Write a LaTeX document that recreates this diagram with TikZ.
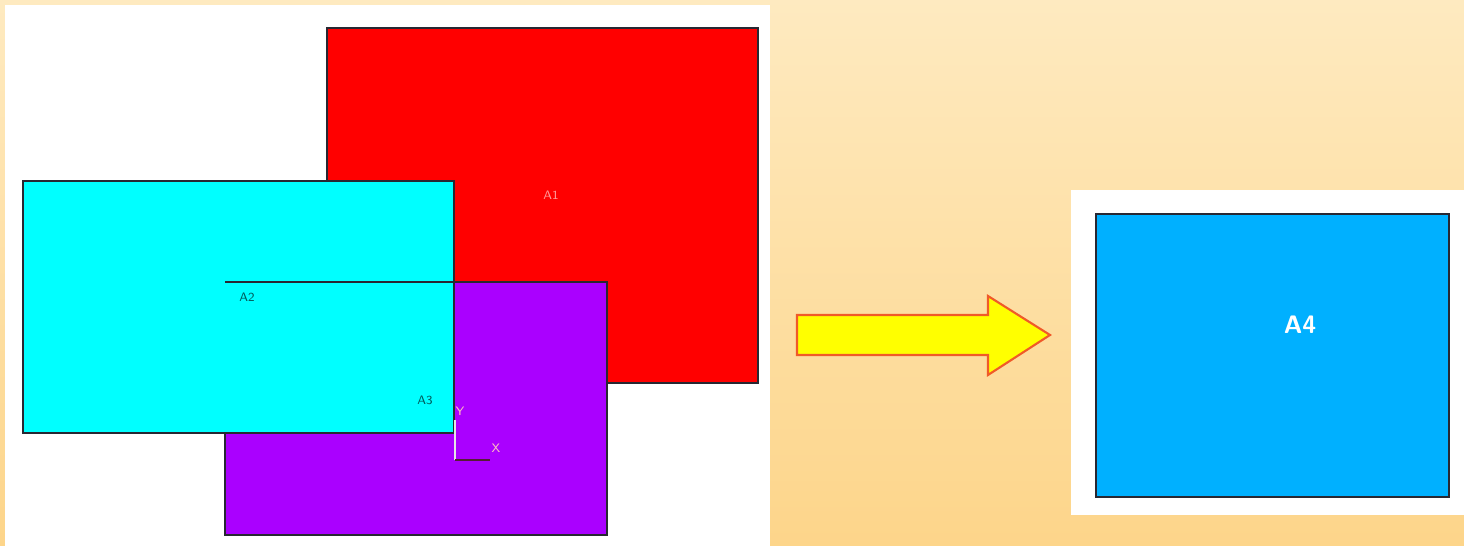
\documentclass[tikz,border=0pt]{standalone}
\usepackage{xcolor}
\usepackage{tikz}
\usetikzlibrary{arrows.meta,positioning}
\definecolor{bgtop}{RGB}{254,234,192}
\definecolor{bgbot}{RGB}{253,213,138}
\definecolor{areared}{RGB}{255,0,0}
\definecolor{areacyan}{RGB}{0,255,255}
\definecolor{areapurple}{RGB}{170,0,255}
\definecolor{areablue}{RGB}{0,176,255}
\definecolor{edgedark}{RGB}{40,40,50}
\definecolor{arrowfill}{RGB}{255,255,0}
\definecolor{arrowedge}{RGB}{240,90,40}

\begin{document}
\begin{tikzpicture}[
  x=0.02cm, y=-0.02cm,
  area/.style={draw=edgedark, line width=0.9pt},
  lbl/.style={font=\sffamily\scriptsize, inner sep=0pt},
  panel/.style={fill=white, draw=none}
]
\useasboundingbox (0,0) rectangle (1464,546);
\shade[top color=bgtop, bottom color=bgbot] (0,0) rectangle (1464,546);

% left panel: three overlapping areas
\fill[panel] (5,5) rectangle (770,546);
\filldraw[area, fill=areared] (327,28) rectangle (758,383);
\filldraw[area, fill=areapurple] (225,282) rectangle (607,535);
\filldraw[area, fill=areacyan] (23,181) rectangle (454,433);
\draw[area] (225,282) -- (454,282);
\node[lbl, text=red!40!white] (a1) at (551,195) {A1};
\node[lbl, text=teal!70!black] (a2) at (247,297) {A2};
\node[lbl, text=teal!70!black] (a3) at (425,400) {A3};

% axis triad
\coordinate (origin) at (455,460);
\coordinate (ytip) at (455,420);
\coordinate (xtip) at (490,460);
\draw[white!80!gray, line width=1.2pt] (origin) -- (ytip);
\draw[edgedark!70!purple, line width=1pt] (origin) -- (xtip);
\node[lbl, text=pink] (ylbl) at (460,411) {Y};
\node[lbl, text=pink] (xlbl) at (496,448) {X};

% arrow
\filldraw[fill=arrowfill, draw=arrowedge, line width=1.2pt]
  (797,315) -- (988,315) -- (988,296) -- (1050,335) -- (988,375)
  -- (988,355) -- (797,355) -- cycle;

% right panel: glued area
\fill[panel] (1071,190) rectangle (1464,515);
\filldraw[draw=edgedark, fill=areablue, line width=1.6pt] (1096,214) rectangle (1449,497);
\node[font=\sffamily\bfseries\Large, text=white, inner sep=0pt] (a4) at (1300,325) {A4};
\end{tikzpicture}
\end{document}
